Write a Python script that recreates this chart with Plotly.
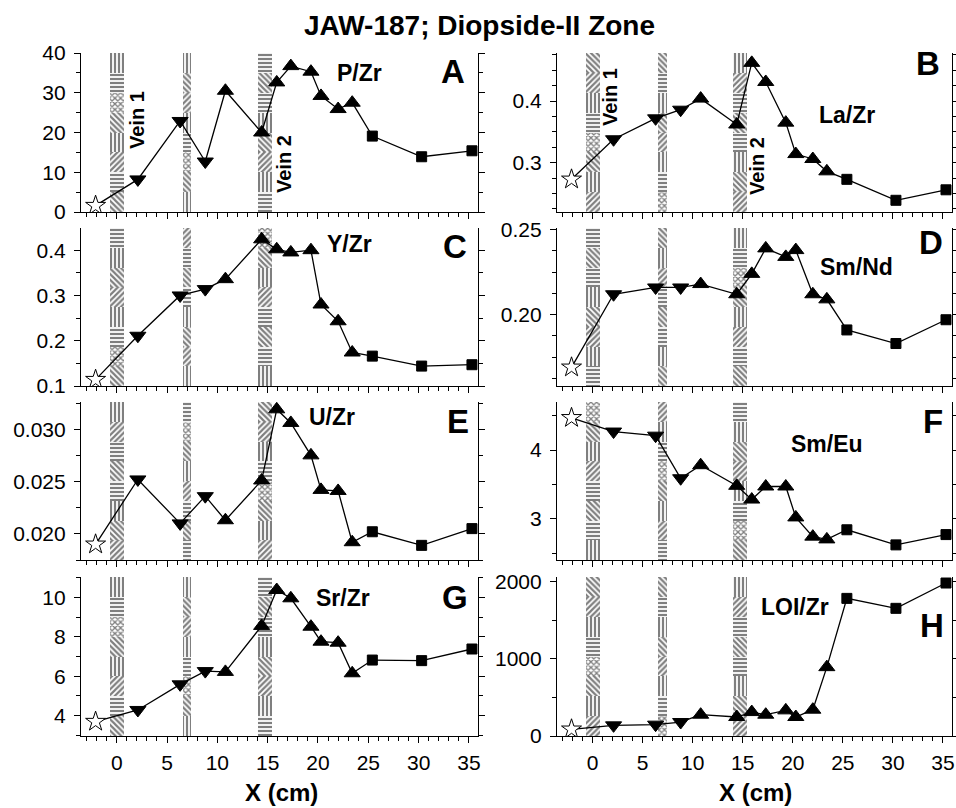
import plotly.graph_objects as go

# ---------------- data ----------------
x_cm = [-2.1, 2.1, 6.3, 8.8, 10.8, 14.4, 15.9, 17.3, 19.3, 20.3, 22.0, 23.4, 25.4, 30.3, 35.3]
sample_group = ["protolith", "down", "down", "down", "up", "up", "up", "up",
                "up", "up", "up", "up", "square", "square", "square"]

p_zr = [1.6, 8.2, 22.9, 12.7, 30.5, 20.0, 32.6, 36.7, 35.3, 29.2, 25.9, 27.5, 19.1, 13.9, 15.4]
la_zr = [0.273, 0.338, 0.372, 0.386, 0.404, 0.362, 0.462, 0.431, 0.365, 0.314, 0.306, 0.286, 0.273, 0.239, 0.256]
y_zr = [0.114, 0.211, 0.300, 0.314, 0.336, 0.424, 0.402, 0.395, 0.400, 0.280, 0.243, 0.174, 0.166, 0.144, 0.147]
sm_nd = [0.169, 0.212, 0.216, 0.216, 0.218, 0.212, 0.224, 0.239, 0.234, 0.238, 0.212, 0.209, 0.191, 0.183, 0.197]
u_zr = [0.0190, 0.0252, 0.0210, 0.0236, 0.0213, 0.0251, 0.0319, 0.0306, 0.0275, 0.0242, 0.0241, 0.0192, 0.0202, 0.0189, 0.0205]
sm_eu = [4.47, 4.27, 4.21, 3.59, 3.78, 3.48, 3.28, 3.47, 3.47, 3.02, 2.74, 2.70, 2.84, 2.62, 2.77]
sr_zr = [3.70, 4.29, 5.59, 6.26, 6.22, 8.55, 10.37, 9.95, 8.51, 7.75, 7.70, 6.15, 6.82, 6.79, 7.38]
loi_zr = [87, 138, 147, 181, 276, 246, 310, 276, 332, 246, 341, 892, 1783, 1654, 1982]

ratio_names = ["P/Zr", "La/Zr", "Y/Zr", "Sm/Nd", "U/Zr", "Sm/Eu", "Sr/Zr", "LOI/Zr"]
panel_letters = ["A", "B", "C", "D", "E", "F", "G", "H"]
series = [p_zr, la_zr, y_zr, sm_nd, u_zr, sm_eu, sr_zr, loi_zr]

vein_left = [-0.65, 6.55, 14.0]
vein_right = [0.7, 7.4, 15.4]

x_ticks = [0, 5, 10, 15, 20, 25, 30, 35]

# ---------------- styling ----------------
W, H = 956, 808
FONT = "Liberation Sans, Arial, Helvetica, sans-serif"

y_ranges = [[0, 40], [0.22, 0.478], [0.1, 0.449], [0.158, 0.251],
            [0.0175, 0.0326], [2.4, 4.7], [2.97, 11.03], [0, 2060]]
y_dticks = [10, 0.1, 0.1, 0.05, 0.005, 1, 2, 1000]
y_minor = [5, 0.025, 0.05, 0.0125, 0.0025, 0.5, 1, 500]
y_formats = ["d", ".1f", ".1f", ".2f", ".3f", "d", "d", "d"]

col_px = [(81, 478), (557, 952)]
row_px = [(53, 212), (228, 386), (402, 560), (577, 736)]
x_range = [-3.55, 35.9]

sym_map = {"protolith": "star", "down": "triangle-down", "up": "triangle-up", "square": "square"}
size_map = {"protolith": 15, "down": 14, "up": 14, "square": 10}
color_map = {"protolith": "white", "down": "black", "up": "black", "square": "black"}

pat_cycle = ["\\", "-", "/", "|", "\\", "x", "-", "|", "/", "\\", "|", "-"]

fig = go.Figure()
layout = {}
annotations = []

def px_x(p):
    return p / W

def px_y(p):
    return 1 - p / H

for i in range(8):
    k = i + 1
    row, col = i // 2, i % 2
    xa = "x" if k == 1 else f"x{k}"
    ya = "y" if k == 1 else f"y{k}"
    y0, y1 = y_ranges[i]

    # veins as patterned bars, split into blocks of varying texture
    nb = 8
    bx, bw, bb, bh, bs = [], [], [], [], []
    for v in range(3):
        cx = (vein_left[v] + vein_right[v]) / 2
        w = vein_right[v] - vein_left[v]
        for j in range(nb):
            bx.append(cx)
            bw.append(w)
            bb.append(y0 + (y1 - y0) * j / nb)
            bh.append((y1 - y0) / nb)
            bs.append(pat_cycle[(j + 3 * v + 2 * i) % len(pat_cycle)])
    fig.add_trace(go.Bar(
        x=bx, y=bh, base=bb, width=bw, xaxis=xa, yaxis=ya, opacity=1,
        marker=dict(color="white", line=dict(width=0),
                    pattern=dict(shape=bs, fgcolor="black", bgcolor="white",
                                 size=4, solidity=0.55)),
        showlegend=False, hoverinfo="skip"))

    # data line
    fig.add_trace(go.Scatter(
        x=x_cm, y=series[i], xaxis=xa, yaxis=ya, mode="lines+markers",
        line=dict(color="black", width=1.3),
        marker=dict(symbol=[sym_map[g] for g in sample_group],
                    size=[size_map[g] for g in sample_group],
                    color=[color_map[g] for g in sample_group],
                    opacity=1,
                    line=dict(color="black", width=1)),
        showlegend=False))

    cx0, cx1 = col_px[col]
    ry0, ry1 = row_px[row]
    layout["xaxis" if k == 1 else f"xaxis{k}"] = dict(
        domain=[px_x(cx0), px_x(cx1)], anchor=ya, range=x_range, automargin=False,
        showline=True, linecolor="black", linewidth=1.2, mirror=False,
        ticks="outside", ticklen=6, tickwidth=1, tickcolor="black",
        tickvals=x_ticks, showticklabels=(row == 3), ticklabelstandoff=2,
        minor=dict(ticks="outside", ticklen=3.5, dtick=1, tick0=0, tickcolor="black", showgrid=False),
        showgrid=False, zeroline=False,
        tickfont=dict(family=FONT, size=21, color="black"))
    layout["yaxis" if k == 1 else f"yaxis{k}"] = dict(
        domain=[px_y(ry1), px_y(ry0)], anchor=xa, range=[y0, y1], automargin=False,
        showline=True, linecolor="black", linewidth=1.2, mirror="allticks",
        ticks="outside", ticklen=6, tickwidth=1, tickcolor="black",
        dtick=y_dticks[i], tick0=0, tickformat=y_formats[i], ticklabelstandoff=4,
        minor=dict(ticks="outside", ticklen=3.5, dtick=y_minor[i], tick0=0, tickcolor="black", showgrid=False),
        showgrid=False, zeroline=False,
        tickfont=dict(family=FONT, size=21, color="black"))

# ratio names and panel letters (pixel centers)
name_pos = [(359, 73), (847, 115), (349, 244), (856, 267), (332, 417), (827, 444), (343, 598), (795, 607)]
letter_pos = [(453, 72), (928, 64), (455, 247), (931, 242), (458, 421), (933, 421), (455, 597), (932, 625)]
for i in range(8):
    annotations.append(dict(text=f"<b>{ratio_names[i]}</b>", x=px_x(name_pos[i][0]), y=px_y(name_pos[i][1]),
                            xref="paper", yref="paper", showarrow=False, xanchor="center", yanchor="middle",
                            font=dict(family=FONT, size=23, color="black")))
    annotations.append(dict(text=f"<b>{panel_letters[i]}</b>", x=px_x(letter_pos[i][0]), y=px_y(letter_pos[i][1]),
                            xref="paper", yref="paper", showarrow=False, xanchor="center", yanchor="middle",
                            font=dict(family=FONT, size=33, color="black")))

vein_labels = [("Vein 1", 137, 120), ("Vein 2", 284, 164), ("Vein 1", 610, 97), ("Vein 2", 757, 166)]
for t, xp, yp in vein_labels:
    annotations.append(dict(text=f"<b>{t}</b>", x=px_x(xp), y=px_y(yp), xref="paper", yref="paper",
                            showarrow=False, textangle=-90, xanchor="center", yanchor="middle",
                            font=dict(family=FONT, size=20, color="black")))

for xp in (281, 755):
    annotations.append(dict(text="<b>X (cm)</b>", x=px_x(xp), y=px_y(792), xref="paper", yref="paper",
                            showarrow=False, xanchor="center", yanchor="middle",
                            font=dict(family=FONT, size=24, color="black")))

annotations.append(dict(text="<b>JAW-187; Diopside-II Zone</b>", x=px_x(479), y=px_y(25), xref="paper",
                        yref="paper", showarrow=False, xanchor="center", yanchor="middle",
                        font=dict(family=FONT, size=28, color="black")))

fig.update_layout(**layout)
fig.update_layout(
    width=W, height=H, margin=dict(l=0, r=0, t=0, b=0, autoexpand=False),
    paper_bgcolor="white", plot_bgcolor="white",
    barmode="overlay", bargap=0, showlegend=False,
    annotations=annotations,
    font=dict(family=FONT, color="black"))

fig.write_html("out.html")
